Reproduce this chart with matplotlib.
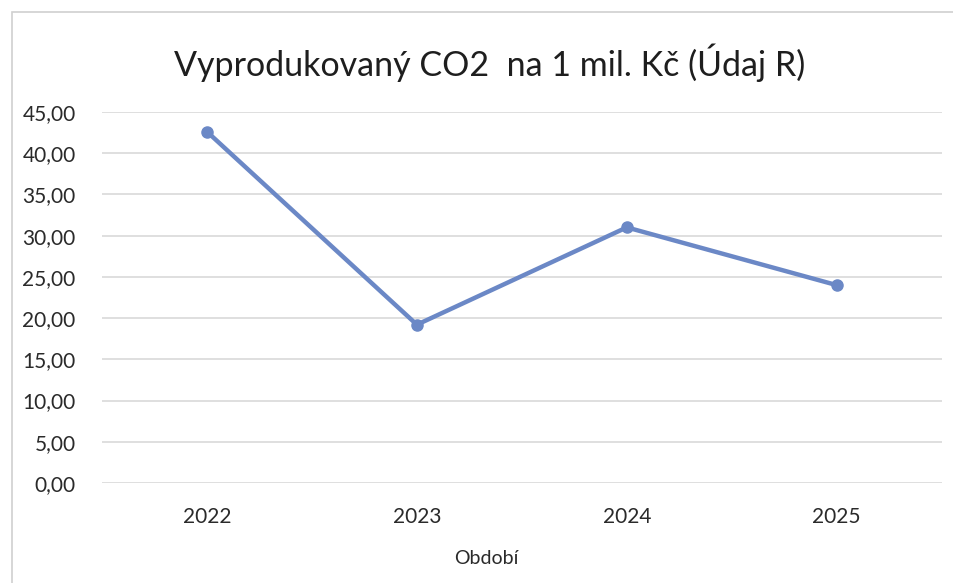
import matplotlib
matplotlib.use("Agg")
import matplotlib.pyplot as plt
from matplotlib.patches import Rectangle
from matplotlib.ticker import FuncFormatter

years = ["2022", "2023", "2024", "2025"]
co2 = [42.6, 19.2, 31.0, 24.0]

plt.rcParams['font.family'] = ['Lato', 'DejaVu Sans']

fig = plt.figure(figsize=(9.54, 5.83), dpi=100)
ax = fig.add_axes([0.107, 0.1715, 0.880, 0.6365])

# chart frame
fig.patches.append(Rectangle((0.013, -0.01), 1.0, 0.99, transform=fig.transFigure,
                             fill=False, edgecolor='#d0d0d0', linewidth=1.2))

x = range(len(years))
ax.plot(x, co2, color='#6b88c6', linewidth=3.2, marker='o', markersize=8,
        markerfacecolor='#6b88c6', markeredgecolor='#6b88c6', solid_capstyle='round')

ax.set_xlim(-0.5, len(years) - 0.5)
ax.set_ylim(0, 45)
ax.set_yticks(range(0, 46, 5))
ax.yaxis.set_major_formatter(FuncFormatter(lambda v, p: f"{v:.2f}".replace('.', ',')))
ax.set_xticks(list(x))
ax.set_xticklabels(years)

ax.grid(axis='y', color='#d9d9d9', linewidth=1.2)
ax.set_axisbelow(True)
for s in ax.spines.values():
    s.set_visible(False)
ax.tick_params(axis='both', length=0, labelsize=15, colors='#2a2a2a')
ax.tick_params(axis='y', pad=19)
ax.tick_params(axis='x', pad=17)

ax.set_xlabel('Období', fontsize=14, color='#2a2a2a')
ax.xaxis.set_label_coords(0.458, -0.18)
fig.text(0.513, 0.893, 'Vyprodukovaný CO2  na 1 mil. Kč (Údaj R)', ha='center', va='center',
         fontsize=24.5, color='#1e1e1e')

fig.savefig('out.png', dpi=100)
